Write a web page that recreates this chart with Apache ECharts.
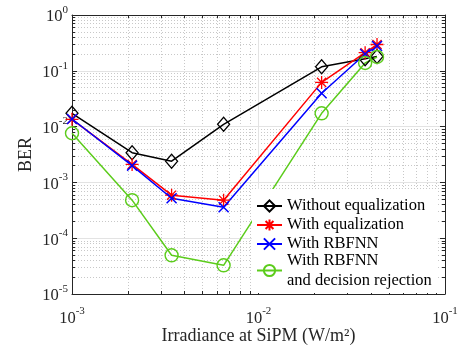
<!DOCTYPE html>
<html>
<head>
<meta charset="utf-8">
<script src="https://cdn.jsdelivr.net/npm/echarts@6/dist/echarts.min.js"></script>
<style>
html,body{margin:0;padding:0;background:#fff;}
#chart{width:461px;height:347px;}
</style>
</head>
<body>
<div id="chart"></div>
<script>
// ---- Data ----
var irradiance = [0.001, 0.0021, 0.00342, 0.0065, 0.0218, 0.0373, 0.0432];
var berWithoutEq = [0.0173, 0.0034, 0.0024, 0.011, 0.118, 0.165, 0.18];
var berWithEq = [0.0135, 0.0021, 0.00059, 0.00048, 0.062, 0.211, 0.296];
var berRBFNN = [0.0137, 0.002, 0.00052, 0.00036, 0.0395, 0.2, 0.278];
var berRBFNNRej = [0.0076, 0.00048, 0.0000494, 0.0000327, 0.0173, 0.138, 0.177];
var seriesNames = ['Without equalization', 'With equalization', 'With RBFNN', 'With RBFNN\nand decision rejection'];
var xDecades = [-3, -2, -1];
var yDecades = [-5, -4, -3, -2, -1, 0];

var FONT = 'Liberation Serif';
var AX = '#262626';

function minorVals(decs) {
  var out = [];
  for (var i = 0; i < decs.length - 1; i++) {
    for (var k = 2; k <= 9; k++) out.push(decs[i] + Math.log10(k));
  }
  return out;
}
var xMinor = minorVals(xDecades);
var yMinor = minorVals(yDecades);

function pairs(xs, ys) { return xs.map(function (x, i) { return [x, ys[i]]; }); }

var powRich = {
  b: { fontFamily: FONT, fontSize: 16.5, color: AX, verticalAlign: 'bottom' },
  s: { fontFamily: FONT, fontSize: 11, color: AX, verticalAlign: 'bottom', padding: [0, 0, 10, 0] }
};
function powLabel(v) {
  var e = Math.round(Math.log10(v));
  return '{b|10}{s|' + e + '}';
}

var starPath = 'path://M0,-10L0,10M-10,0L10,0M-7,-7L7,7M-7,7L7,-7';
var xPath = 'path://M-10,-10L10,10M-10,10L10,-10';

function makeSeries(name, data, color, symbol, size, lw) {
  return {
    type: 'line', name: name, data: pairs(irradiance, data),
    xAxisIndex: 0, yAxisIndex: 0,
    symbol: symbol, symbolSize: size, showSymbol: true,
    lineStyle: { color: color, width: 1.5 },
    itemStyle: { color: 'rgba(0,0,0,0)', borderColor: color, borderWidth: lw },
    color: color,
    emphasis: { disabled: true },
    animation: false
  };
}

var mainX = {
  type: 'log', logBase: 10, min: 0.001, max: 0.1, position: 'bottom',
  axisLine: { show: true, onZero: false, lineStyle: { color: AX, width: 1 } },
  axisTick: { show: true, inside: true, length: 5, lineStyle: { color: AX } },
  axisLabel: { formatter: powLabel, rich: powRich, margin: 12 },
  splitLine: { show: true, lineStyle: { color: '#e3e3e3', width: 1, type: 'solid' } },
  name: 'Irradiance at SiPM (W/m\u00B2)', nameLocation: 'middle', nameGap: 33,
  nameMoveOverlap: false,
  nameTextStyle: { fontFamily: FONT, fontSize: 18, color: AX },
  z: 3
};
var minorX = {
  type: 'value', min: xDecades[0], max: xDecades[xDecades.length - 1], position: 'bottom',
  axisLine: { show: false, onZero: false },
  axisLabel: { show: false },
  axisTick: { show: true, inside: true, length: 3, customValues: xMinor, lineStyle: { color: AX } },
  splitLine: { show: true, lineStyle: { color: '#c8c8c8', width: 1, type: [1, 2] } },
  z: 2
};
var topX = {
  type: 'log', logBase: 10, min: 0.001, max: 0.1, position: 'top',
  axisLine: { show: true, onZero: false, lineStyle: { color: AX, width: 1 } },
  axisTick: { show: true, inside: true, length: 5, lineStyle: { color: AX } },
  axisLabel: { show: false }, splitLine: { show: false }, z: 3
};
var topMinorX = {
  type: 'value', min: xDecades[0], max: xDecades[xDecades.length - 1], position: 'top',
  axisLine: { show: false, onZero: false }, axisLabel: { show: false },
  axisTick: { show: true, inside: true, length: 3, customValues: xMinor, lineStyle: { color: AX } },
  splitLine: { show: false }, z: 3
};

var mainY = {
  type: 'log', logBase: 10, min: 0.00001, max: 1, position: 'left',
  axisLine: { show: true, onZero: false, lineStyle: { color: AX, width: 1 } },
  axisTick: { show: true, inside: true, length: 5, lineStyle: { color: AX } },
  axisLabel: { formatter: powLabel, rich: powRich, margin: 4 },
  splitLine: { show: true, lineStyle: { color: '#e3e3e3', width: 1, type: 'solid' } },
  name: 'BER', nameLocation: 'middle', nameGap: 37,
  nameMoveOverlap: false,
  nameTextStyle: { fontFamily: FONT, fontSize: 18, color: AX },
  z: 3
};
var minorY = {
  type: 'value', min: yDecades[0], max: yDecades[yDecades.length - 1], position: 'left',
  axisLine: { show: false, onZero: false }, axisLabel: { show: false },
  axisTick: { show: true, inside: true, length: 3, customValues: yMinor, lineStyle: { color: AX } },
  splitLine: { show: true, lineStyle: { color: '#c8c8c8', width: 1, type: [1, 2] } },
  z: 2
};
var rightY = {
  type: 'log', logBase: 10, min: 0.00001, max: 1, position: 'right',
  axisLine: { show: true, onZero: false, lineStyle: { color: AX, width: 1 } },
  axisTick: { show: true, inside: true, length: 5, lineStyle: { color: AX } },
  axisLabel: { show: false }, splitLine: { show: false }, z: 3
};
var rightMinorY = {
  type: 'value', min: yDecades[0], max: yDecades[yDecades.length - 1], position: 'right',
  axisLine: { show: false, onZero: false }, axisLabel: { show: false },
  axisTick: { show: true, inside: true, length: 3, customValues: yMinor, lineStyle: { color: AX } },
  splitLine: { show: false }, z: 3
};

var chart = echarts.init(document.getElementById('chart'), null, { renderer: 'canvas' });
chart.setOption({
  animation: false,
  backgroundColor: '#fff',
  grid: { left: 72, right: 16, top: 15, bottom: 53, containLabel: false, outerBoundsMode: 'none' },
  xAxis: [mainX, minorX, topX, topMinorX],
  yAxis: [mainY, minorY, rightY, rightMinorY],
  legend: {
    orient: 'vertical', left: 252, top: 189,
    backgroundColor: '#fff', padding: [7, 6, 3, 4],
    itemWidth: 25, itemHeight: 14, itemGap: -3,
    textStyle: { fontFamily: FONT, fontSize: 16.5, color: '#000' },
    data: [
      { name: seriesNames[0], textStyle: { lineHeight: 20 } },
      { name: seriesNames[1], textStyle: { lineHeight: 24 } },
      { name: seriesNames[2], textStyle: { lineHeight: 20 } },
      { name: seriesNames[3], textStyle: { lineHeight: 19.5 } }
    ]
  },
  series: [
    makeSeries(seriesNames[0], berWithoutEq, '#000000', 'diamond', [12, 14], 1.3),
    makeSeries(seriesNames[1], berWithEq, '#ff0000', starPath, 13, 1.3),
    makeSeries(seriesNames[2], berRBFNN, '#0000ff', xPath, 10, 1.5),
    makeSeries(seriesNames[3], berRBFNNRej, '#5ccc1c', 'circle', 13, 1.4)
  ]
});
</script>
</body>
</html>
